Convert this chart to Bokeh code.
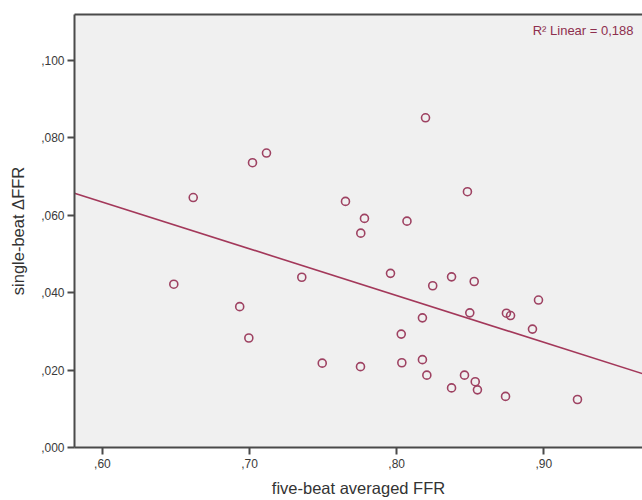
import numpy as np
from bokeh.plotting import figure
from bokeh.models import (ColumnDataSource, FixedTicker, CustomJSTickFormatter,
                          LinearAxis, Label, Range1d)
from bokeh.embed import file_html
from bokeh.resources import INLINE

# five-beat averaged FFR (x) and single-beat delta FFR (y)
ffr_avg = [0.6485, 0.6617, 0.6933, 0.6995, 0.7020, 0.7115, 0.7355, 0.7494, 0.7652,
           0.7756, 0.7781, 0.7754, 0.7958, 0.8031, 0.8035, 0.8070, 0.8175, 0.8175,
           0.8196, 0.8205, 0.8245, 0.8373, 0.8373, 0.8461, 0.8481, 0.8497, 0.8527,
           0.8534, 0.8549, 0.8740, 0.8746, 0.8774, 0.8923, 0.8964, 0.9229]
delta_ffr = [0.0422, 0.0646, 0.0364, 0.0283, 0.0736, 0.0761, 0.0440, 0.0218, 0.0636,
             0.0554, 0.0592, 0.0209, 0.0450, 0.0293, 0.0219, 0.0585, 0.0335, 0.0227,
             0.0852, 0.0187, 0.0418, 0.0441, 0.0154, 0.0187, 0.0661, 0.0348, 0.0429,
             0.0170, 0.0149, 0.0132, 0.0347, 0.0341, 0.0306, 0.0381, 0.0124]

x_ticks = [0.60, 0.70, 0.80, 0.90]
y_ticks = [0.000, 0.020, 0.040, 0.060, 0.080, 0.100]
x_lim = (0.581, 0.9671)
y_lim = (0.0, 0.1119)
r2_text = "R\u00b2 Linear = 0,188"

FONT = "Liberation Sans"
AXIS_COL = "#4a4a4a"
MARK_COL = "#9e4262"
LINE_COL = "#a3385a"

p = figure(width=642, height=500, output_backend="svg", toolbar_location=None,
           x_range=Range1d(*x_lim), y_range=Range1d(*y_lim),
           min_border_left=74, min_border_right=0, min_border_top=14,
           min_border_bottom=53, background_fill_color="#f0f0f0",
           border_fill_color="white", outline_line_color=None)
p.grid.visible = False

# regression line from data
slope, intercept = np.polyfit(ffr_avg, delta_ffr, 1)
lx = [x_lim[0], x_lim[1]]
ly = [intercept + slope * v for v in lx]
p.line(lx, ly, line_color=LINE_COL, line_width=1.6)

src = ColumnDataSource(dict(x=ffr_avg, y=delta_ffr))
p.scatter("x", "y", source=src, size=8, marker="circle", fill_color=None,
          line_color=MARK_COL, line_width=1.6)

for ax, ticks, fmt in ((p.xaxis[0], x_ticks, 2), (p.yaxis[0], y_ticks, 3)):
    ax.ticker = FixedTicker(ticks=ticks)
    ax.formatter = CustomJSTickFormatter(
        code="return ',' + tick.toFixed(%d).split('.')[1];" % fmt)
    ax.minor_tick_line_color = None
    ax.major_tick_in = 0
    ax.major_tick_out = 7
    ax.major_tick_line_width = 2
    ax.major_tick_line_color = AXIS_COL
    ax.axis_line_width = 2
    ax.axis_line_color = AXIS_COL
    ax.major_label_text_font = FONT
    ax.major_label_text_font_size = "12px"
    ax.major_label_text_color = "#3a3a3a"
    ax.axis_label_text_font = FONT
    ax.axis_label_text_font_size = "16.5px"
    ax.axis_label_text_font_style = "normal"
    ax.axis_label_text_color = "#333333"

p.xaxis[0].axis_label = "five-beat averaged FFR"
p.xaxis[0].major_label_standoff = 4
p.xaxis[0].axis_label_standoff = 8
p.yaxis[0].axis_label = "single-beat \u0394FFR"
p.yaxis[0].major_label_standoff = 3
p.yaxis[0].axis_label_standoff = 11

top = LinearAxis(ticker=FixedTicker(ticks=[]), major_tick_out=0, major_tick_in=0,
                 minor_tick_line_color=None, axis_line_width=2,
                 axis_line_color=AXIS_COL, major_label_standoff=0)
p.add_layout(top, "above")

p.add_layout(Label(x=0.961, y=0.1078, text=r2_text, text_align="right",
                   text_baseline="middle", text_font=FONT, text_font_size="13px",
                   text_color="#8e2f4e"))

open("out.html", "w").write(file_html(p, INLINE))
